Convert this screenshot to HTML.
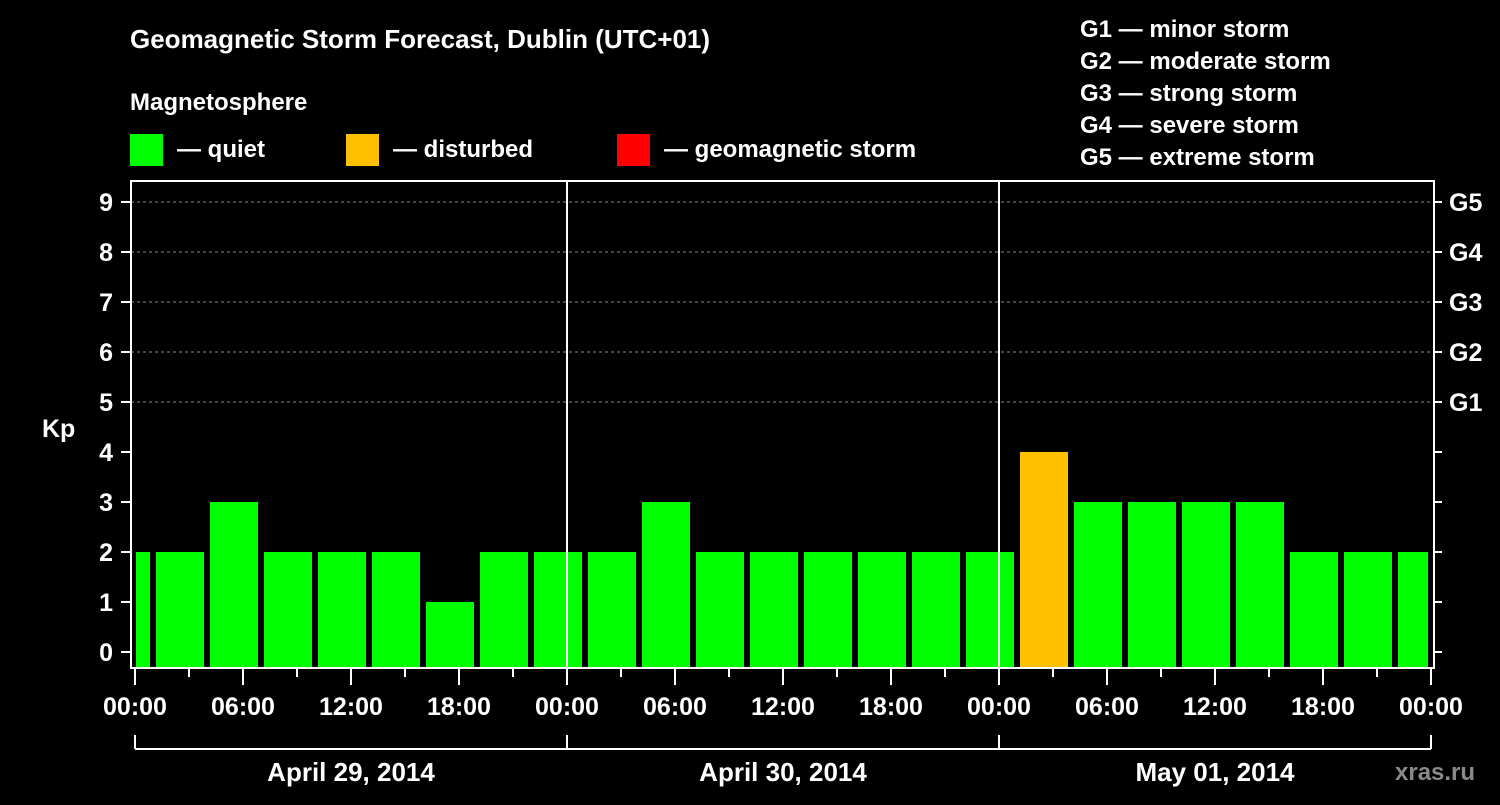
<!DOCTYPE html>
<html><head><meta charset="utf-8"><style>
body{margin:0;background:#000;}
svg text{font-family:"Liberation Sans",sans-serif;font-weight:bold;fill:#fff;}
</style></head><body>
<svg width="1500" height="800">
<rect width="1500" height="800" fill="#000"/>
<text x="130" y="48" font-size="26">Geomagnetic Storm Forecast, Dublin (UTC+01)</text>
<text x="130" y="110" font-size="24">Magnetosphere</text>
<g><rect x="130" y="134" width="33" height="32" fill="#00ff00"/><text x="177" y="157" font-size="24">— quiet</text></g>
<g><rect x="346" y="134" width="33" height="32" fill="#ffc000"/><text x="393" y="157" font-size="24">— disturbed</text></g>
<g><rect x="617" y="134" width="33" height="32" fill="#ff0000"/><text x="664" y="157" font-size="24">— geomagnetic storm</text></g>
<g font-size="24">
<text x="1080" y="37">G1 — minor storm</text>
<text x="1080" y="69">G2 — moderate storm</text>
<text x="1080" y="101">G3 — strong storm</text>
<text x="1080" y="133">G4 — severe storm</text>
<text x="1080" y="165">G5 — extreme storm</text>
</g>
<g id="plot"></g>
<text x="1395" y="780" font-size="24" fill="#888" style="fill:#8a8a8a">xras.ru</text>
</svg>
<script>
const kpValues=[2,2,3,2,2,2,1,2,2,2,3,2,2,2,2,2,2,4,3,3,3,3,2,2,2];
const yTicks=[0,1,2,3,4,5,6,7,8,9];
const gLabels=["G1","G2","G3","G4","G5"];
const xLabels=["00:00","06:00","12:00","18:00","00:00","06:00","12:00","18:00","00:00","06:00","12:00","18:00","00:00"];
const dayLabels=["April 29, 2014","April 30, 2014","May 01, 2014"];
const NS="http://www.w3.org/2000/svg";
const g=document.getElementById('plot');
const L=131,R=1434,T=181,B=668,X0=135,HPX=18;
const y=v=>652-v*50;
const x=h=>X0+h*HPX;
function mk(tag,at,txt){const e=document.createElementNS(NS,tag);for(const k in at)e.setAttribute(k,at[k]);if(txt!=null)e.textContent=txt;g.appendChild(e);return e;}
// grid G lines
for(let v=5;v<=9;v++){const e=mk('line',{x1:L,x2:R,y1:y(v),y2:y(v),stroke:'#888','stroke-dasharray':'3,3','stroke-width':1});

}
// bars
kpValues.forEach((v,i)=>{let h0=i===0?0:1+3*(i-1),h1=i===0?1:Math.min(72,1+3*i);
let x0=x(h0)+(i===0?1:3),x1=x(h1)-3;
const c=v>=5?'#ff0000':(v>=4?'#ffc000':'#00ff00');
const e=mk('rect',{x:x0,y:y(v),width:x1-x0,height:667-y(v),fill:c});

});
// day separators
[1,2].forEach(d=>{const e=mk('line',{x1:x(24*d),x2:x(24*d),y1:T,y2:B,stroke:'#fff','stroke-width':2});

});
// frame
const fr=mk('rect',{x:L,y:T,width:R-L,height:B-T,fill:'none',stroke:'#fff','stroke-width':2});


// y ticks
yTicks.forEach(v=>{mk('line',{x1:121,x2:L,y1:y(v),y2:y(v),stroke:'#fff','stroke-width':2});
mk('line',{x1:R,x2:1442,y1:y(v),y2:y(v),stroke:'#fff','stroke-width':2});
const t=mk('text',{x:113,y:y(v)+9,'font-size':25,'text-anchor':'end'},v);

});
gLabels.forEach((s,i)=>{const t=mk('text',{x:1449,y:y(5+i)+9,'font-size':25},s);

});
const kp=mk('text',{x:42,y:437,'font-size':25},'Kp');


// x ticks
for(let h=0;h<=72;h+=3){const maj=h%6===0;mk('line',{x1:x(h),x2:x(h),y1:B,y2:B+(maj?17:9),stroke:'#fff','stroke-width':2});}
xLabels.forEach((s,i)=>{const t=mk('text',{x:x(i*6),y:715,'font-size':25,'text-anchor':'middle'},s);

});
// day bracket
mk('line',{x1:x(0),x2:x(72),y1:749,y2:749,stroke:'#fff','stroke-width':2});
for(let d=0;d<=3;d++)mk('line',{x1:x(24*d),x2:x(24*d),y1:735,y2:749,stroke:'#fff','stroke-width':2});
dayLabels.forEach((s,i)=>{const t=mk('text',{x:x(24*i+12),y:781,'font-size':26,'text-anchor':'middle'},s);

});
</script>
</body></html>
